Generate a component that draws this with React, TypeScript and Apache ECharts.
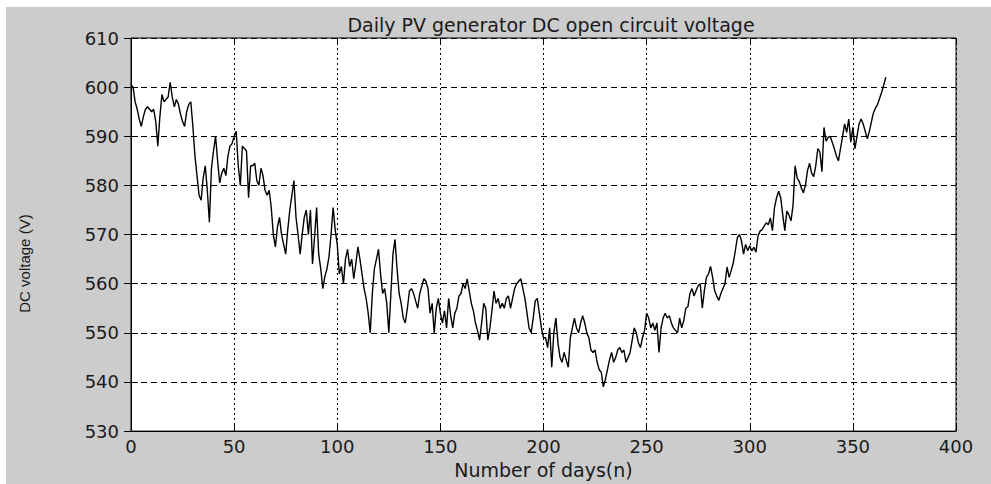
import React, { useEffect, useRef } from "react";
import * as echarts from "echarts";

// Daily DC open circuit voltage (V), day index 0..366
const voltage: number[] = [
  600.5, 600, 597, 595.5, 593.5, 592, 594, 595.5, 596, 595.5,
  595, 595.5, 593, 588, 594, 598.5, 597, 597.5, 598, 601,
  598, 596, 597.5, 596.5, 594.5, 593, 592, 595, 596.5, 597,
  592, 586, 582, 578, 577, 581.5, 584, 579, 572.5, 583.5,
  587, 590, 585, 580.5, 582.5, 583.5, 582, 586, 588, 588.5,
  590, 591, 584, 580, 588, 587.5, 587, 577.5, 584, 584,
  584.5, 581, 580, 583.5, 582, 579, 578, 579, 575.5, 570,
  567.5, 571.5, 573.5, 570, 568, 566, 571, 575, 578, 581,
  573.5, 570, 566, 570, 573.5, 575, 570, 575, 564, 569.5,
  575.5, 566, 563, 559, 561.5, 563, 565.5, 570, 575.5, 571,
  568, 562, 563.5, 560, 565, 567, 563.5, 565, 561, 564,
  567.5, 565, 562, 559, 557, 554, 550, 558, 563, 565,
  567, 562, 558, 559, 556, 550, 558, 566, 569, 563,
  558, 556, 553, 552, 555, 558.5, 559, 558, 556.5, 555,
  558, 559.5, 561, 560.5, 559, 554, 556, 550, 555, 557,
  554, 552, 554.5, 551, 557, 553.5, 551, 554, 555, 557.5,
  558, 560, 559, 561, 558.5, 556, 554.5, 552, 550.5, 548.5,
  552, 556, 555, 548.5, 551, 554.5, 558.5, 556, 557, 555,
  556, 555, 557, 557.5, 555, 557, 559, 560, 560.5, 561,
  559, 557, 554, 551, 550, 553, 556.5, 557, 554, 551,
  549, 549, 547, 551, 543, 550, 553, 548, 545, 544,
  546, 544.5, 543, 549, 551, 553, 551, 550, 552, 553.5,
  552, 550, 549, 546.5, 546, 546.5, 544, 542.5, 542, 539,
  540.5, 542.5, 544.5, 546, 544, 545, 546.5, 547, 546, 546.5,
  544, 545, 546, 548.5, 551, 550, 548, 547, 549, 550.5,
  554, 553, 551, 552, 550.5, 552, 546, 551, 553, 554,
  553, 553.5, 552, 551, 550.5, 550, 553, 551, 552.5, 555,
  555.3, 558, 559, 557.5, 558.6, 559.6, 560, 555, 558.6, 561.3,
  562, 563.5, 561.3, 558.5, 557.5, 556.6, 558, 559, 560, 563.4,
  561.3, 562.7, 564.2, 566.7, 569.4, 570, 568.7, 566, 568, 566.7,
  567.7, 566.7, 567.4, 566.4, 569.7, 570.7, 571, 571.7, 572.4, 572,
  573.4, 570.8, 575.5, 577.5, 578.8, 577.5, 574, 570.8, 574.8, 574,
  572.8, 576, 584, 581.5, 580.8, 579.5, 578.5, 580, 583, 584.5,
  582.5, 581.8, 584, 587.5, 586.8, 582.8, 591.8, 589, 589.8, 590,
  588.8, 587.5, 586, 585, 587.5, 590, 592.5, 590.8, 593.5, 588.8,
  591.8, 587.5, 590, 592.5, 593.5, 592.5, 591, 589.5, 591, 593,
  594.8, 595.8, 596.5, 597.8, 599, 600.5, 602,
];

const xMin = 0;
const xMax = 400;
const xStep = 50;
const yMin = 530;
const yMax = 610;
const yStep = 10;

const titleText = "Daily PV generator DC open circuit voltage";
const xName = "Number of days(n)";
const yName = "DC voltage (V)";

export default function App() {
  const ref = useRef<HTMLDivElement>(null);

  useEffect(() => {
    if (!ref.current) return;
    const chart = echarts.init(ref.current, undefined, { renderer: "svg" });
    const points = voltage.map((v, i) => [i, v]);
    const labelFont = {
      fontFamily: "DejaVu Sans",
      fontSize: 18,
      color: "#1a1a1a",
    };
    chart.setOption({
      animation: false,
      backgroundColor: "#cccccc",
      title: {
        text: titleText,
        left: 540,
        textAlign: "center",
        top: 3,
        textStyle: {
          fontFamily: "DejaVu Sans",
          fontSize: 19,
          fontWeight: "normal",
          color: "#1a1a1a",
        },
      },
      grid: {
        left: 125,
        top: 31,
        right: 35,
        bottom: 48,
        show: true,
        backgroundColor: "#ffffff",
        borderColor: "#000000",
        borderWidth: 1,
      },
      xAxis: [
        {
          type: "value",
          min: xMin,
          max: xMax,
          interval: xStep,
          position: "bottom",
          name: xName,
          nameLocation: "middle",
          nameGap: 22,
          nameTextStyle: { ...labelFont, fontSize: 19 },
          axisLine: { show: true, lineStyle: { color: "#000", width: 1 } },
          axisTick: { show: true, inside: true, length: 7, lineStyle: { color: "#000" } },
          axisLabel: { ...labelFont, margin: 6 },
          splitLine: {
            show: true,
            lineStyle: { color: "#000", width: 1, type: [2, 3] },
          },
        },
        {
          type: "value",
          min: xMin,
          max: xMax,
          interval: xStep,
          position: "top",
          axisLine: { show: false },
          axisTick: { show: true, inside: true, length: 7, lineStyle: { color: "#000" } },
          axisLabel: { show: false },
          splitLine: { show: false },
        },
      ],
      yAxis: [
        {
          type: "value",
          min: yMin,
          max: yMax,
          interval: yStep,
          position: "left",
          name: yName,
          nameLocation: "middle",
          nameGap: 99,
          nameTextStyle: {
            fontFamily: "Liberation Sans",
            fontSize: 15,
            color: "#1a1a1a",
            padding: [0, 58, 0, 0],
          },
          axisLine: { show: true, lineStyle: { color: "#000", width: 1 } },
          axisTick: { show: true, inside: true, length: 7, lineStyle: { color: "#000" } },
          axisLabel: { ...labelFont, margin: 12 },
          splitLine: {
            show: true,
            lineStyle: { color: "#000", width: 1, type: [6, 4] },
          },
        },
        {
          type: "value",
          min: yMin,
          max: yMax,
          interval: yStep,
          position: "right",
          axisLine: { show: false },
          axisTick: { show: true, inside: true, length: 7, lineStyle: { color: "#000" } },
          axisLabel: { show: false },
          splitLine: { show: false },
        },
      ],
      series: [
        {
          type: "line",
          xAxisIndex: 0,
          yAxisIndex: 0,
          data: points,
          showSymbol: false,
          symbol: "none",
          lineStyle: { color: "#000", width: 1.4 },
          z: 5,
        },
      ],
    });
    return () => chart.dispose();
  }, []);

  return (
    <div
      style={{
        position: "fixed",
        left: 0,
        top: 0,
        width: 991,
        height: 484,
        background: "#ffffff",
      }}
    >
      <div
        ref={ref}
        style={{ position: "absolute", left: 6, top: 7, width: 985, height: 477 }}
      />
    </div>
  );
}
